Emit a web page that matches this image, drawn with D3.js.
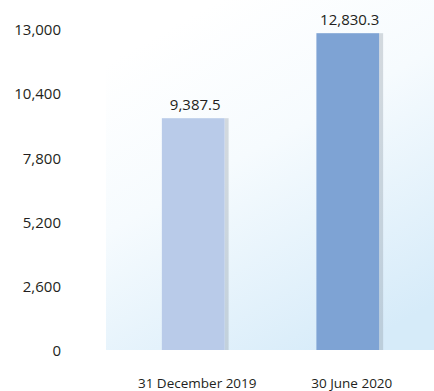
<!DOCTYPE html>
<html>
<head>
<meta charset="utf-8">
<script src="https://cdn.jsdelivr.net/npm/d3@7"></script>
<style>
  body { margin: 0; background: #fff; }
  text { font-family: "Open Sans", sans-serif; fill: #231f20; }
</style>
</head>
<body>
<svg id="chart" width="434" height="391"></svg>
<script>
const categories = ['31 December 2019', '30 June 2020'];
const values = [9387.5, 12830.3];
const tickValues = [0, 2600, 5200, 7800, 10400, 13000];
const barColors = ['#b9cbe9', '#7ea3d4'];

const plot = { left: 106, right: 434, top: 29, bottom: 350 };

const svg = d3.select('#chart');

// background gradient, white at the top-left to pale blue at the bottom-right
const defs = svg.append('defs');
const grad = defs.append('linearGradient')
  .attr('id', 'bg')
  .attr('x1', '25%').attr('y1', '5%')
  .attr('x2', '75%').attr('y2', '100%');
grad.append('stop').attr('offset', '0%').attr('stop-color', '#ffffff');
grad.append('stop').attr('offset', '40%').attr('stop-color', '#f6fbfe');
grad.append('stop').attr('offset', '100%').attr('stop-color', '#d6ebf9');

svg.append('rect')
  .attr('x', plot.left)
  .attr('y', 0)
  .attr('width', plot.right - plot.left)
  .attr('height', plot.bottom)
  .attr('fill', 'url(#bg)');

const x = d3.scaleBand()
  .domain(categories)
  .range([plot.left + 1, plot.right])
  .paddingInner(0.594)
  .paddingOuter(0.355);

const y = d3.scaleLinear()
  .domain([0, 13000])
  .range([plot.bottom, plot.top]);

// y tick labels
const fmt = d3.format(',');
svg.append('g')
  .selectAll('text')
  .data(tickValues)
  .join('text')
  .attr('x', 61)
  .attr('y', d => y(d) + 1)
  .attr('dy', '0.35em')
  .attr('text-anchor', 'end')
  .attr('font-size', 15)
  .text(d => fmt(d));

const bars = svg.append('g')
  .selectAll('g')
  .data(categories)
  .join('g');

// thin grey shadow on the right side
bars.append('rect')
  .attr('x', d => x(d) + x.bandwidth())
  .attr('y', (d, i) => y(values[i]))
  .attr('width', 4)
  .attr('height', (d, i) => y(0) - y(values[i]))
  .attr('fill', '#8c99a4')
  .attr('fill-opacity', 0.35);

bars.append('rect')
  .attr('x', d => x(d))
  .attr('y', (d, i) => y(values[i]))
  .attr('width', x.bandwidth())
  .attr('height', (d, i) => y(0) - y(values[i]))
  .attr('fill', (d, i) => barColors[i]);

bars.append('text')
  .attr('x', d => x(d) + x.bandwidth() / 2 + 2)
  .attr('y', (d, i) => y(values[i]) - 8)
  .attr('text-anchor', 'middle')
  .attr('font-size', 15)
  .text((d, i) => d3.format(',.1f')(values[i]));

bars.append('text')
  .attr('x', d => x(d) + x.bandwidth() / 2 + 4)
  .attr('y', 388)
  .attr('text-anchor', 'middle')
  .attr('font-size', 13.5)
  .text(d => d);
</script>
</body>
</html>
